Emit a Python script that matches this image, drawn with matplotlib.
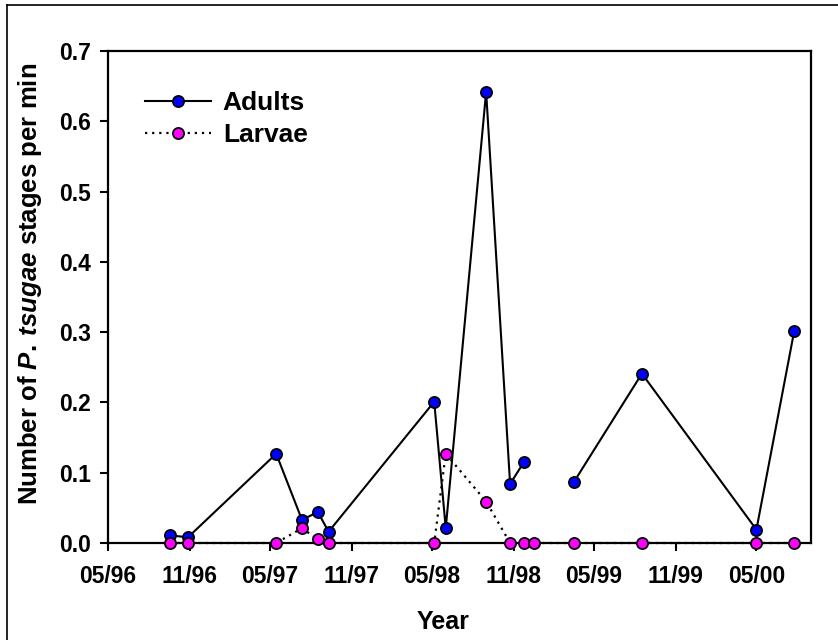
import matplotlib
matplotlib.use("Agg")
import matplotlib.pyplot as plt
import matplotlib.dates as mdates
from matplotlib.lines import Line2D
import numpy as np
import datetime as dt

# Sampling dates and catch rates
sample_dates = ['1996-09-18', '1996-10-28', '1997-05-15', '1997-07-12', '1997-08-17',
                '1997-09-10', '1998-05-06', '1998-06-01', '1998-08-31', '1998-10-24',
                '1998-11-24', '1998-12-17', '1999-03-17', '1999-08-17', '2000-05-01',
                '2000-07-25']
adults = [0.011, 0.008, 0.127, 0.033, 0.044, 0.016, 0.201, 0.021, 0.642, 0.084,
          0.115, np.nan, 0.087, 0.241, 0.019, 0.301]
larvae = [0, 0, 0, 0.021, 0.005, 0, 0, 0.127, 0.059, 0, 0, 0, 0, 0, 0, 0]

tick_dates = ['1996-05-01', '1996-11-01', '1997-05-01', '1997-11-01', '1998-05-01',
              '1998-11-01', '1999-05-01', '1999-11-01', '2000-05-01']
y_ticks = [0.0, 0.1, 0.2, 0.3, 0.4, 0.5, 0.6, 0.7]

plt.rcParams['font.family'] = ['Liberation Sans', 'DejaVu Sans']
plt.rcParams['font.weight'] = 'bold'
plt.rcParams['mathtext.fontset'] = 'custom'
plt.rcParams['mathtext.it'] = 'Liberation Sans:italic:bold'
plt.rcParams['mathtext.rm'] = 'Liberation Sans:bold'

dates = [dt.datetime.strptime(s, '%Y-%m-%d') for s in sample_dates]
ticks = [dt.datetime.strptime(s, '%Y-%m-%d') for s in tick_dates]

fig = plt.figure(figsize=(8.38, 6.4), dpi=100)
ax = fig.add_axes([108/838, 1 - 543/640, 703/838, 492/640])

ax.plot(dates, adults, '-', color='black', lw=1.5, marker='o', ms=8,
        mfc='#0000ff', mec='black', mew=1.3, label='Adults', zorder=3)
ax.plot(dates, larvae, color='black', lw=1.6, linestyle=(0, (1, 2.2)), marker='o', ms=8,
        mfc='#ff00ff', mec='black', mew=1.3, label='Larvae', zorder=4, clip_on=False)

ax.set_xlim(dt.datetime(1996, 5, 1), dt.datetime(2000, 9, 1))
ax.set_ylim(0, 0.7)
ax.set_xticks(ticks)
ax.xaxis.set_major_formatter(mdates.DateFormatter('%m/%y'))
ax.set_yticks(y_ticks)
ax.set_yticklabels(['%.1f' % v for v in y_ticks])

for s in ax.spines.values():
    s.set_linewidth(1.6)
ax.tick_params(axis='both', direction='out', length=6, width=1.5, labelsize=16.5)
ax.tick_params(axis='x', pad=10)
ax.tick_params(axis='y', pad=6)

ax.set_xlabel('Year', fontsize=18, fontweight='bold')
ax.xaxis.set_label_coords(0.476, -0.161)
ax.xaxis.label.set_va('center')
ax.set_ylabel(r'Number of $\mathit{P.\:tsugae}$ stages per min', fontsize=18.5, fontweight='bold')
ax.yaxis.set_label_coords(-0.111, 0.526)
ax.yaxis.label.set_va('center')

ax.legend(loc='upper left', bbox_to_anchor=(0.0526, 0.919), frameon=False,
          fontsize=19, handlelength=2.5, handletextpad=0.45, labelspacing=0.3,
          borderpad=0, borderaxespad=0)

# outer frame around the whole figure
fig.add_artist(Line2D([7/838, 7/838], [0, 1 - 5/640], transform=fig.transFigure,
                      color='black', lw=1.2))
fig.add_artist(Line2D([7/838, 1], [1 - 5/640, 1 - 5/640], transform=fig.transFigure,
                      color='black', lw=1.2))

fig.savefig('out.png', dpi=100)
